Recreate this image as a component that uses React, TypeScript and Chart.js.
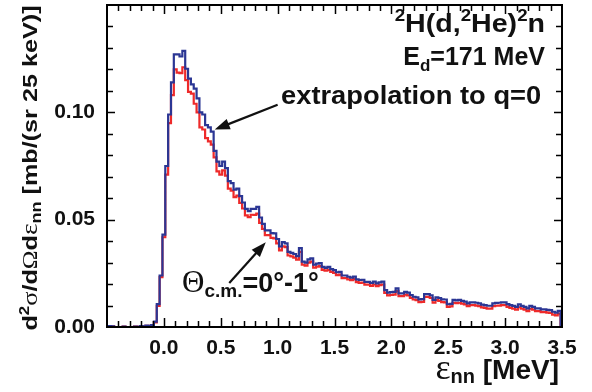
import React, { useEffect, useRef } from "react";
import { Chart, registerables } from "chart.js";

Chart.register(...registerables);

// ---------- data ----------
const binWidth = 0.025; // MeV (25 keV bins)
const firstBinCenter = -0.5; // MeV
const xMin = -0.5;
const xMax = 3.5;
const yMin = 0;
const yMax = 0.15;
const xMajorStep = 0.5;
const xMinorStep = 0.1;
const yMajorStep = 0.05;
const yMinorStep = 0.01;

// extrapolation to q=0 (blue)
const blueValues = [
  0, 0.0004, 0.0003, 0, 0, 0, 0.0002, 0, 0, 0,
  0.0002, 0, 0.0004, 0.0002, 0.0006, 0.0005, 0.0009, 0.0025, 0.0107, 0.024,
  0.043, 0.075, 0.099, 0.114, 0.127, 0.127, 0.126, 0.1286, 0.1203, 0.1157,
  0.113, 0.111, 0.1065, 0.1, 0.099, 0.094, 0.093, 0.091, 0.082, 0.077,
  0.075, 0.077, 0.074, 0.068, 0.067, 0.064, 0.0645, 0.061, 0.058, 0.055,
  0.054, 0.055, 0.055, 0.056, 0.051, 0.048, 0.045, 0.045, 0.0437, 0.0436,
  0.041, 0.0375, 0.0395, 0.039, 0.035, 0.0345, 0.034, 0.033, 0.0367, 0.0305,
  0.03, 0.0315, 0.032, 0.029, 0.0295, 0.0298, 0.028, 0.0275, 0.028, 0.027,
  0.0265, 0.0255, 0.0257, 0.024, 0.024, 0.0234, 0.023, 0.0235, 0.0222, 0.0219,
  0.022, 0.021, 0.021, 0.0205, 0.0211, 0.0203, 0.0208, 0.0211, 0.0172, 0.016,
  0.0162, 0.0164, 0.018, 0.0157, 0.0157, 0.0164, 0.016, 0.0149, 0.0141, 0.0138,
  0.0129, 0.013, 0.0153, 0.0153, 0.0148, 0.0126, 0.0138, 0.0135, 0.0129, 0.0128,
  0.0106, 0.0108, 0.0126, 0.0124, 0.0126, 0.0122, 0.0118, 0.011, 0.0115, 0.0115,
  0.0113, 0.011, 0.0104, 0.0102, 0.0099, 0.0099, 0.011, 0.0112, 0.0113, 0.0115,
  0.0115, 0.0107, 0.0102, 0.0098, 0.0094, 0.0105, 0.0098, 0.0094, 0.0087, 0.0098,
  0.0094, 0.0087, 0.0087, 0.0082, 0.0082, 0.008, 0.0079, 0.0071, 0.0067, 0.0075,
];

// Theta_c.m. = 0-1 deg (red)
const redValues = [
  0, 0.0003, 0.0003, 0, 0, 0, 0.0002, 0, 0, 0,
  0.0002, 0, 0.0003, 0.0002, 0.0005, 0.0005, 0.0008, 0.0022, 0.0098, 0.0232,
  0.0418, 0.071, 0.095, 0.108, 0.12, 0.1185, 0.1183, 0.121, 0.115, 0.1095,
  0.1087, 0.104, 0.1, 0.093, 0.092, 0.088, 0.0865, 0.085, 0.079, 0.0725,
  0.071, 0.073, 0.0705, 0.0645, 0.0635, 0.0605, 0.0612, 0.0578, 0.0552, 0.052,
  0.0512, 0.0523, 0.0522, 0.0528, 0.0485, 0.0457, 0.0428, 0.0428, 0.0415, 0.0413,
  0.039, 0.0357, 0.0376, 0.0372, 0.0333, 0.0329, 0.0323, 0.0314, 0.035, 0.029,
  0.0286, 0.03, 0.0305, 0.0276, 0.0281, 0.0284, 0.0266, 0.0262, 0.0266, 0.0257,
  0.0252, 0.0242, 0.0244, 0.0228, 0.0228, 0.0222, 0.0218, 0.0223, 0.0209, 0.0206,
  0.0207, 0.0197, 0.0197, 0.0192, 0.0198, 0.019, 0.0195, 0.0198, 0.0159, 0.0147,
  0.0149, 0.0151, 0.0167, 0.0144, 0.0144, 0.0151, 0.0147, 0.0136, 0.0128, 0.0125,
  0.0116, 0.0117, 0.014, 0.014, 0.0135, 0.0113, 0.0125, 0.0122, 0.0116, 0.0115,
  0.0094, 0.0096, 0.0113, 0.0111, 0.0113, 0.0109, 0.0105, 0.0097, 0.0102, 0.0102,
  0.01, 0.0097, 0.0091, 0.0089, 0.0086, 0.0086, 0.0097, 0.0099, 0.01, 0.0102,
  0.0102, 0.0094, 0.0089, 0.0085, 0.0081, 0.0092, 0.0085, 0.0081, 0.0074, 0.0085,
  0.0081, 0.0074, 0.0074, 0.0069, 0.0069, 0.0067, 0.0066, 0.0058, 0.0054, 0.0062,
];

// annotation anchors in data coordinates
const extrapArrow = { fromX: 1.0, fromY: 0.1035, toX: 0.447, toY: 0.092 };
const thetaArrow = { fromX: 0.575, fromY: 0.0205, toX: 0.896, toY: 0.0395 };
const extrapLabel = { x: 1.03, y: 0.1037 };
const thetaLabel = { x: 0.16, y: 0.0162 };

const BLUE = "#2b3694";
const RED = "#ee2a2a";
const SANS = "'Liberation Sans', Arial, sans-serif";
const SERIF = "'Liberation Serif', 'DejaVu Serif', serif";

type Run = { t: string; font: string; dy?: number };

function runsWidth(ctx: CanvasRenderingContext2D, runs: Run[]) {
  let w = 0;
  for (const r of runs) {
    ctx.font = r.font;
    w += ctx.measureText(r.t).width;
  }
  return w;
}

function drawRuns(
  ctx: CanvasRenderingContext2D,
  runs: Run[],
  x: number,
  y: number,
  align: "left" | "right" | "center",
  sx = 1
) {
  ctx.save();
  ctx.translate(x, y);
  ctx.scale(sx, 1);
  const total = runsWidth(ctx, runs);
  let cx = align === "left" ? 0 : align === "right" ? -total : -total / 2;
  ctx.textAlign = "left";
  ctx.textBaseline = "alphabetic";
  for (const r of runs) {
    ctx.font = r.font;
    ctx.fillText(r.t, cx, r.dy || 0);
    cx += ctx.measureText(r.t).width;
  }
  ctx.restore();
}

function drawArrow(ctx: CanvasRenderingContext2D, x1: number, y1: number, x2: number, y2: number) {
  const ang = Math.atan2(y2 - y1, x2 - x1);
  const headLen = 15;
  const headW = 5.5;
  const bx = x2 - headLen * Math.cos(ang);
  const by = y2 - headLen * Math.sin(ang);
  ctx.save();
  ctx.strokeStyle = "#111";
  ctx.fillStyle = "#111";
  ctx.lineWidth = 2.2;
  ctx.beginPath();
  ctx.moveTo(x1, y1);
  ctx.lineTo(bx + 3 * Math.cos(ang), by + 3 * Math.sin(ang));
  ctx.stroke();
  ctx.beginPath();
  ctx.moveTo(x2, y2);
  ctx.lineTo(bx + headW * Math.sin(ang), by - headW * Math.cos(ang));
  ctx.lineTo(bx - headW * Math.sin(ang), by + headW * Math.cos(ang));
  ctx.closePath();
  ctx.fill();
  ctx.restore();
}

const b = (s: number) => `bold ${s}px ${SANS}`;
const g = (s: number) => `${s}px ${SERIF}`;

const decorPlugin = {
  id: "decor",
  afterDraw(chart: any) {
    const ctx: CanvasRenderingContext2D = chart.ctx;
    const { left, right, top, bottom } = chart.chartArea;
    const xs = chart.scales.x;
    const ys = chart.scales.y;
    ctx.save();
    // frame
    ctx.strokeStyle = "#000";
    ctx.lineWidth = 2;
    ctx.strokeRect(left, top, right - left, bottom - top);
    // inward ticks
    ctx.lineWidth = 1.5;
    ctx.beginPath();
    const nX = Math.round((xMax - xMin) / xMinorStep);
    for (let i = 1; i < nX; i++) {
      const v = xMin + i * xMinorStep;
      const major = Math.abs(v / xMajorStep - Math.round(v / xMajorStep)) < 1e-6;
      const len = major ? 9 : 6;
      const px = Math.round(xs.getPixelForValue(v)) + 0.5;
      ctx.moveTo(px, bottom);
      ctx.lineTo(px, bottom - len);
      ctx.moveTo(px, top);
      ctx.lineTo(px, top + len);
    }
    const nY = Math.round((yMax - yMin) / yMinorStep);
    for (let i = 1; i < nY; i++) {
      const v = yMin + i * yMinorStep;
      const major = Math.abs(v / yMajorStep - Math.round(v / yMajorStep)) < 1e-6;
      const len = major ? 8 : 6;
      const py = Math.round(ys.getPixelForValue(v)) + 0.5;
      ctx.moveTo(left, py);
      ctx.lineTo(left + len, py);
      ctx.moveTo(right, py);
      ctx.lineTo(right - len, py);
    }
    ctx.stroke();

    ctx.fillStyle = "#111";
    // y-axis title (rotated)
    ctx.save();
    ctx.translate(37, (top + bottom) / 2 + 2);
    ctx.rotate(-Math.PI / 2);
    drawRuns(
      ctx,
      [
        { t: "d", font: b(21) },
        { t: "2", font: b(14), dy: -8 },
        { t: "\u03C3", font: g(22) },
        { t: "/d", font: b(21) },
        { t: "\u03A9", font: g(21) },
        { t: "d", font: b(21) },
        { t: "\u03B5", font: g(23) },
        { t: "nn", font: b(15), dy: 4 },
        { t: " [mb/(sr 25 keV)]", font: b(21) },
      ],
      0,
      0,
      "center",
      1.2
    );
    ctx.restore();

    // x-axis title
    drawRuns(
      ctx,
      [
        { t: "\u03B5", font: g(36) },
        { t: "nn", font: b(20), dy: 4 },
        { t: " [MeV]", font: b(28) },
      ],
      559,
      379,
      "right"
    );

    // reaction labels, top right
    drawRuns(
      ctx,
      [
        { t: "2", font: b(17), dy: -11 },
        { t: "H(d,", font: b(26) },
        { t: "2", font: b(17), dy: -11 },
        { t: "He)", font: b(26) },
        { t: "2", font: b(17), dy: -11 },
        { t: "n", font: b(26) },
      ],
      545,
      32,
      "right",
      1.1
    );
    drawRuns(
      ctx,
      [
        { t: "E", font: b(25) },
        { t: "d", font: b(17), dy: 6 },
        { t: "=171 MeV", font: b(25) },
      ],
      545,
      65,
      "right"
    );

    // extrapolation label + arrow
    drawRuns(
      ctx,
      [{ t: "extrapolation to q=0", font: b(26) }],
      xs.getPixelForValue(extrapLabel.x),
      ys.getPixelForValue(extrapLabel.y),
      "left",
      1.05
    );
    drawArrow(
      ctx,
      xs.getPixelForValue(extrapArrow.fromX),
      ys.getPixelForValue(extrapArrow.fromY),
      xs.getPixelForValue(extrapArrow.toX),
      ys.getPixelForValue(extrapArrow.toY)
    );

    // theta label + arrow
    drawRuns(
      ctx,
      [
        { t: "\u0398", font: g(31) },
        { t: "c.m.", font: b(19), dy: 5 },
        { t: "=0\u00B0-1\u00B0", font: b(27) },
      ],
      xs.getPixelForValue(thetaLabel.x),
      ys.getPixelForValue(thetaLabel.y),
      "left"
    );
    drawArrow(
      ctx,
      xs.getPixelForValue(thetaArrow.fromX),
      ys.getPixelForValue(thetaArrow.fromY),
      xs.getPixelForValue(thetaArrow.toX),
      ys.getPixelForValue(thetaArrow.toY)
    );
    ctx.restore();
  },
};

function toPoints(vals: number[]) {
  const pts = vals.map((v, i) => ({ x: firstBinCenter - binWidth / 2 + i * binWidth, y: v }));
  pts.push({ x: firstBinCenter - binWidth / 2 + vals.length * binWidth, y: 0 });
  return pts;
}

export default function App() {
  const ref = useRef<HTMLCanvasElement | null>(null);
  useEffect(() => {
    if (!ref.current) return;
    const tickFont = { family: SANS, size: 21, weight: "bold" as const };
    const chart = new Chart(ref.current, {
      type: "line",
      data: {
        datasets: [
          {
            label: "extrapolation to q=0",
            data: toPoints(blueValues),
            borderColor: BLUE,
            borderWidth: 2.2,
            pointRadius: 0,
            stepped: "before",
            fill: false,
          },
          {
            label: "\u0398c.m.=0\u00B0-1\u00B0",
            data: toPoints(redValues),
            borderColor: RED,
            borderWidth: 2.2,
            pointRadius: 0,
            stepped: "before",
            fill: false,
          },
        ],
      },
      options: {
        animation: false,
        responsive: false,
        maintainAspectRatio: false,
        layout: { padding: { left: 8, right: 30, top: 5, bottom: 5 } },
        plugins: { legend: { display: false }, tooltip: { enabled: false } },
        scales: {
          x: {
            type: "linear",
            min: xMin,
            max: xMax,
            grid: { display: false, drawTicks: false },
            border: { display: false },
            afterFit: (s: any) => {
              s.height = 60;
              s.paddingLeft = 0;
              s.paddingRight = 0;
            },
            afterBuildTicks: (s: any) => {
              s.ticks = s.ticks.filter((t: any) => t.value > -1e-6);
            },
            ticks: {
              stepSize: xMajorStep,
              autoSkip: false,
              maxRotation: 0,
              padding: 9,
              color: "#111",
              font: tickFont,
              callback: (v: any) => Number(v).toFixed(1),
            },
          },
          y: {
            type: "linear",
            min: yMin,
            max: yMax,
            grid: { display: false, drawTicks: false },
            border: { display: false },
            afterFit: (s: any) => {
              s.width = 99;
              s.paddingTop = 0;
              s.paddingBottom = 0;
            },
            afterBuildTicks: (s: any) => {
              s.ticks = s.ticks.filter((t: any) => t.value < yMax - 1e-6);
            },
            ticks: {
              stepSize: yMajorStep,
              padding: 12,
              color: "#111",
              font: tickFont,
              callback: (v: any) => Number(v).toFixed(2),
            },
          },
        },
      },
      plugins: [decorPlugin],
    });
    return () => chart.destroy();
  }, []);
  return (
    <div style={{ position: "absolute", left: 0, top: 0, width: 592, height: 392, background: "#fff" }}>
      <canvas ref={ref} width={592} height={392} style={{ display: "block" }} />
    </div>
  );
}
